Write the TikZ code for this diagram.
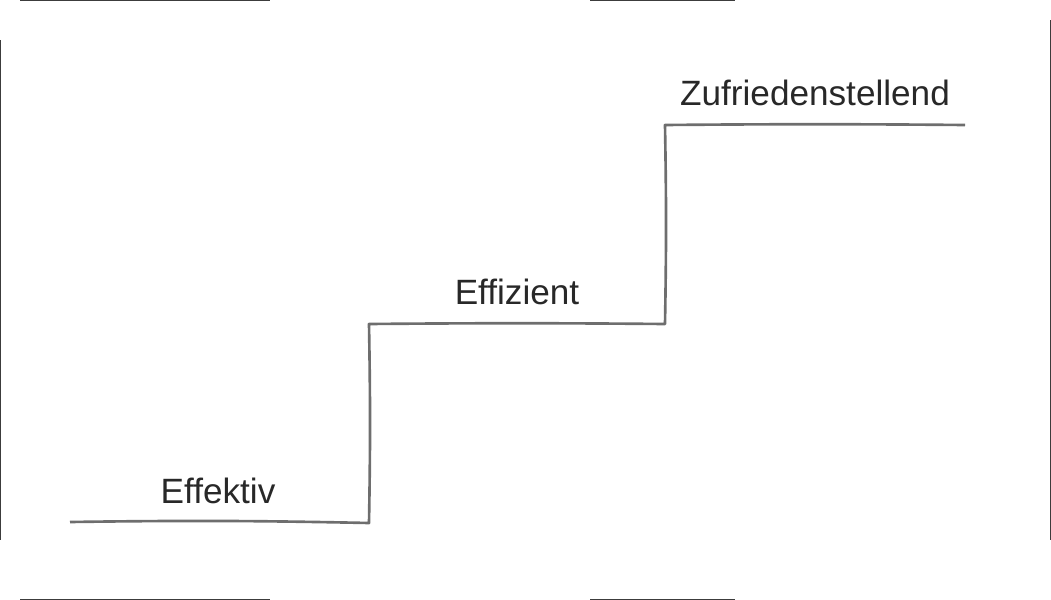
\documentclass[tikz,border=0pt]{standalone}
\usepackage{fontspec}
\setmainfont{Liberation Sans}
\begin{document}
\begin{tikzpicture}[x=0.01cm,y=-0.01cm,
  stair/.style={draw={rgb,255:red,110;green,110;blue,110},line width=0.75pt,line join=round},
  lbl/.style={text={rgb,255:red,40;green,40;blue,40},font=\fontsize{10}{12}\selectfont,inner sep=0pt},
  frame/.style={draw={rgb,255:red,60;green,60;blue,60},line width=0.35pt}]
\useasboundingbox (0,0) rectangle (1051,600);
\draw[frame] (20,0.5) -- (270,0.5) (590,0.5) -- (735,0.5);
\draw[frame] (20,599.5) -- (270,599.5) (590,599.5) -- (735,599.5);
\draw[frame] (0.5,40) -- (0.5,540);
\draw[frame] (1050.5,20) -- (1050.5,540);
\coordinate (s0) at (70,522);
\coordinate (s1) at (369,523);
\coordinate (s2) at (369,324);
\coordinate (s3) at (665,324);
\coordinate (s4) at (665,125);
\coordinate (s5) at (965,125);
\draw[stair] (s0) to[bend left=1] (s1) to[bend right=1] (s2) to[bend left=0.5] (s3) to[bend right=1] (s4) to[bend left=0.5] (s5);
\node[lbl] (a) at (218,491) {Effektiv};
\node[lbl] (b) at (517,292) {Effizient};
\node[lbl] (c) at (815,93) {Zufriedenstellend};
\end{tikzpicture}
\end{document}
